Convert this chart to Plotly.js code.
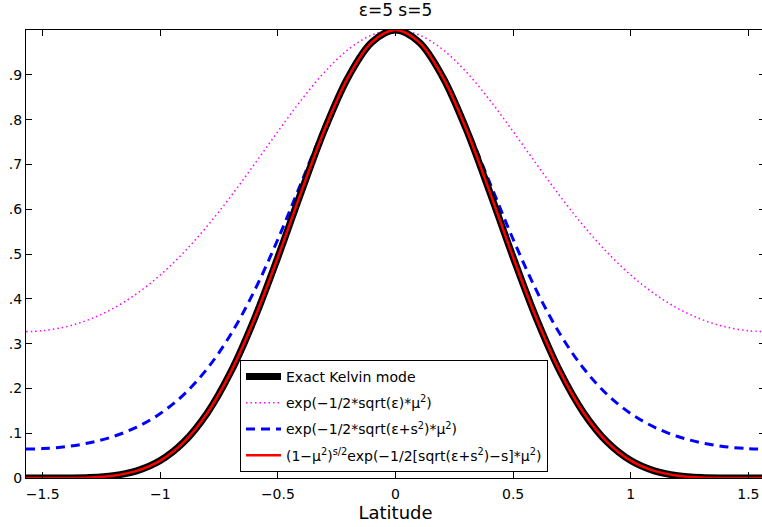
<!DOCTYPE html>
<html>
<head>
<meta charset="utf-8">
<script src="https://cdn.plot.ly/plotly-3.0.1.min.js"></script>
<style>
html,body{margin:0;padding:0;overflow:hidden;background:#fff;}
#chart{width:766px;height:527px;}
</style>
</head>
<body>
<div id="chart"></div>
<script>
// Latitude (radians)
const latitude = [-1.5708,-1.5,-1.4,-1.3,-1.2,-1.1,-1.0,-0.9,-0.8,-0.7,-0.6,-0.5,-0.4,-0.3,-0.2,-0.1,0,
                  0.1,0.2,0.3,0.4,0.5,0.6,0.7,0.8,0.9,1.0,1.1,1.2,1.3,1.4,1.5,1.5708];
// Exact Kelvin mode
const exactKelvin = [0,0.0000,0.0001,0.0011,0.0052,0.0160,0.0390,0.0803,0.1453,0.2371,0.3550,0.4929,0.6394,0.7795,0.8958,0.9730,1,
                     0.9730,0.8958,0.7795,0.6394,0.4929,0.3550,0.2371,0.1453,0.0803,0.0390,0.0160,0.0052,0.0011,0.0001,0.0000,0];
// exp(-1/2*sqrt(eps)*mu^2)
const approxEps = [0.3269,0.3288,0.3377,0.3542,0.3786,0.4115,0.4531,0.5036,0.5625,0.6288,0.7002,0.7734,0.8441,0.9070,0.9568,0.9889,1,
                   0.9889,0.9568,0.9070,0.8441,0.7734,0.7002,0.6288,0.5625,0.5036,0.4531,0.4115,0.3786,0.3542,0.3377,0.3288,0.3269];
// exp(-1/2*sqrt(eps+s^2)*mu^2)
const approxEpsS = [0.0647,0.0656,0.0700,0.0787,0.0926,0.1136,0.1438,0.1863,0.2443,0.3209,0.4176,0.5329,0.6601,0.7873,0.8975,0.9731,1,
                    0.9731,0.8975,0.7873,0.6601,0.5329,0.4176,0.3209,0.2443,0.1863,0.1438,0.1136,0.0926,0.0787,0.0700,0.0656,0.0647];
// (1-mu^2)^(s/2) exp(-1/2[sqrt(eps+s^2)-s]*mu^2)
const approxFull = [0,0.0000,0.0001,0.0011,0.0051,0.0159,0.0389,0.0802,0.1452,0.2370,0.3549,0.4928,0.6393,0.7794,0.8958,0.9730,1,
                    0.9730,0.8958,0.7794,0.6393,0.4928,0.3549,0.2370,0.1452,0.0802,0.0389,0.0159,0.0051,0.0011,0.0001,0.0000,0];

const yTickVals = [0,0.1,0.2,0.3,0.4,0.5,0.6,0.7,0.8,0.9];
const yTickText = ["0",".1",".2",".3",".4",".5",".6",".7",".8",".9"];
const xTickVals = [-1.5,-1,-0.5,0,0.5,1,1.5];

const names = [
  "Exact Kelvin mode",
  "exp(\u22121/2*sqrt(\u03b5)*\u03bc<sup>2</sup>)",
  "exp(\u22121/2*sqrt(\u03b5+s<sup>2</sup>)*\u03bc<sup>2</sup>)",
  "(1\u2212\u03bc<sup>2</sup>)<sup>s/2</sup>exp(\u22121/2[sqrt(\u03b5+s<sup>2</sup>)\u2212s]*\u03bc<sup>2</sup>)"
];

const traces = [
  {x: latitude, y: approxEps, name: names[1], legendrank: 2, legendgroup: 'b', mode: 'lines',
   line: {color: 'rgb(255,0,255)', width: 1.5, dash: '1.5px,3px', shape: 'spline'}},
  {x: latitude, y: approxEpsS, name: names[2], legendrank: 3, legendgroup: 'c', mode: 'lines',
   line: {color: 'rgb(0,0,255)', width: 3, dash: '9px,6px', shape: 'spline'}},
  {x: latitude, y: exactKelvin, name: names[0], legendrank: 1, legendgroup: 'a', mode: 'lines',
   line: {color: 'black', width: 7, shape: 'spline'}},
  {x: latitude, y: approxFull, name: names[3], legendrank: 4, legendgroup: 'd', mode: 'lines',
   line: {color: 'rgb(255,0,0)', width: 2.5, shape: 'spline'}}
];

const font = {family: 'DejaVu Sans, Arial, sans-serif', color: 'black'};

const layout = {
  width: 766, height: 527,
  margin: {l: 26, r: 1, t: 30, b: 49},
  paper_bgcolor: 'white', plot_bgcolor: 'white',
  font: Object.assign({size: 14}, font),
  title: {text: '\u03b5=5 s=5', x: 0.5, xref: 'paper', y: 1 - 10/527, yanchor: 'middle',
          font: Object.assign({size: 17}, font)},
  showlegend: true,
  legend: {x: (240-26)/739, y: (478-360)/448, xanchor: 'left', yanchor: 'top',
           bgcolor: 'white', bordercolor: 'black', borderwidth: 1,
           font: Object.assign({size: 14}, font), itemwidth: 35, tracegroupgap: 5},
  xaxis: {range: [-1.5708, 1.5708], tickvals: xTickVals, ticks: 'inside', ticklen: 6,
          tickcolor: 'black', showline: true, linecolor: 'black', linewidth: 1, mirror: 'ticks',
          showgrid: false, zeroline: false, ticklabelstandoff: 3,
          tickfont: Object.assign({size: 14}, font),
          title: {text: 'Latitude', standoff: 4, font: Object.assign({size: 18}, font)}},
  yaxis: {range: [0, 1], tickvals: yTickVals, ticktext: yTickText, ticks: 'inside', ticklen: 6,
          tickcolor: 'black', showline: true, linecolor: 'black', linewidth: 1, mirror: 'ticks',
          showgrid: false, zeroline: false,
          tickfont: Object.assign({size: 14}, font)}
};

Plotly.newPlot('chart', traces, layout, {displayModeBar: false, staticPlot: true});
</script>
</body>
</html>
